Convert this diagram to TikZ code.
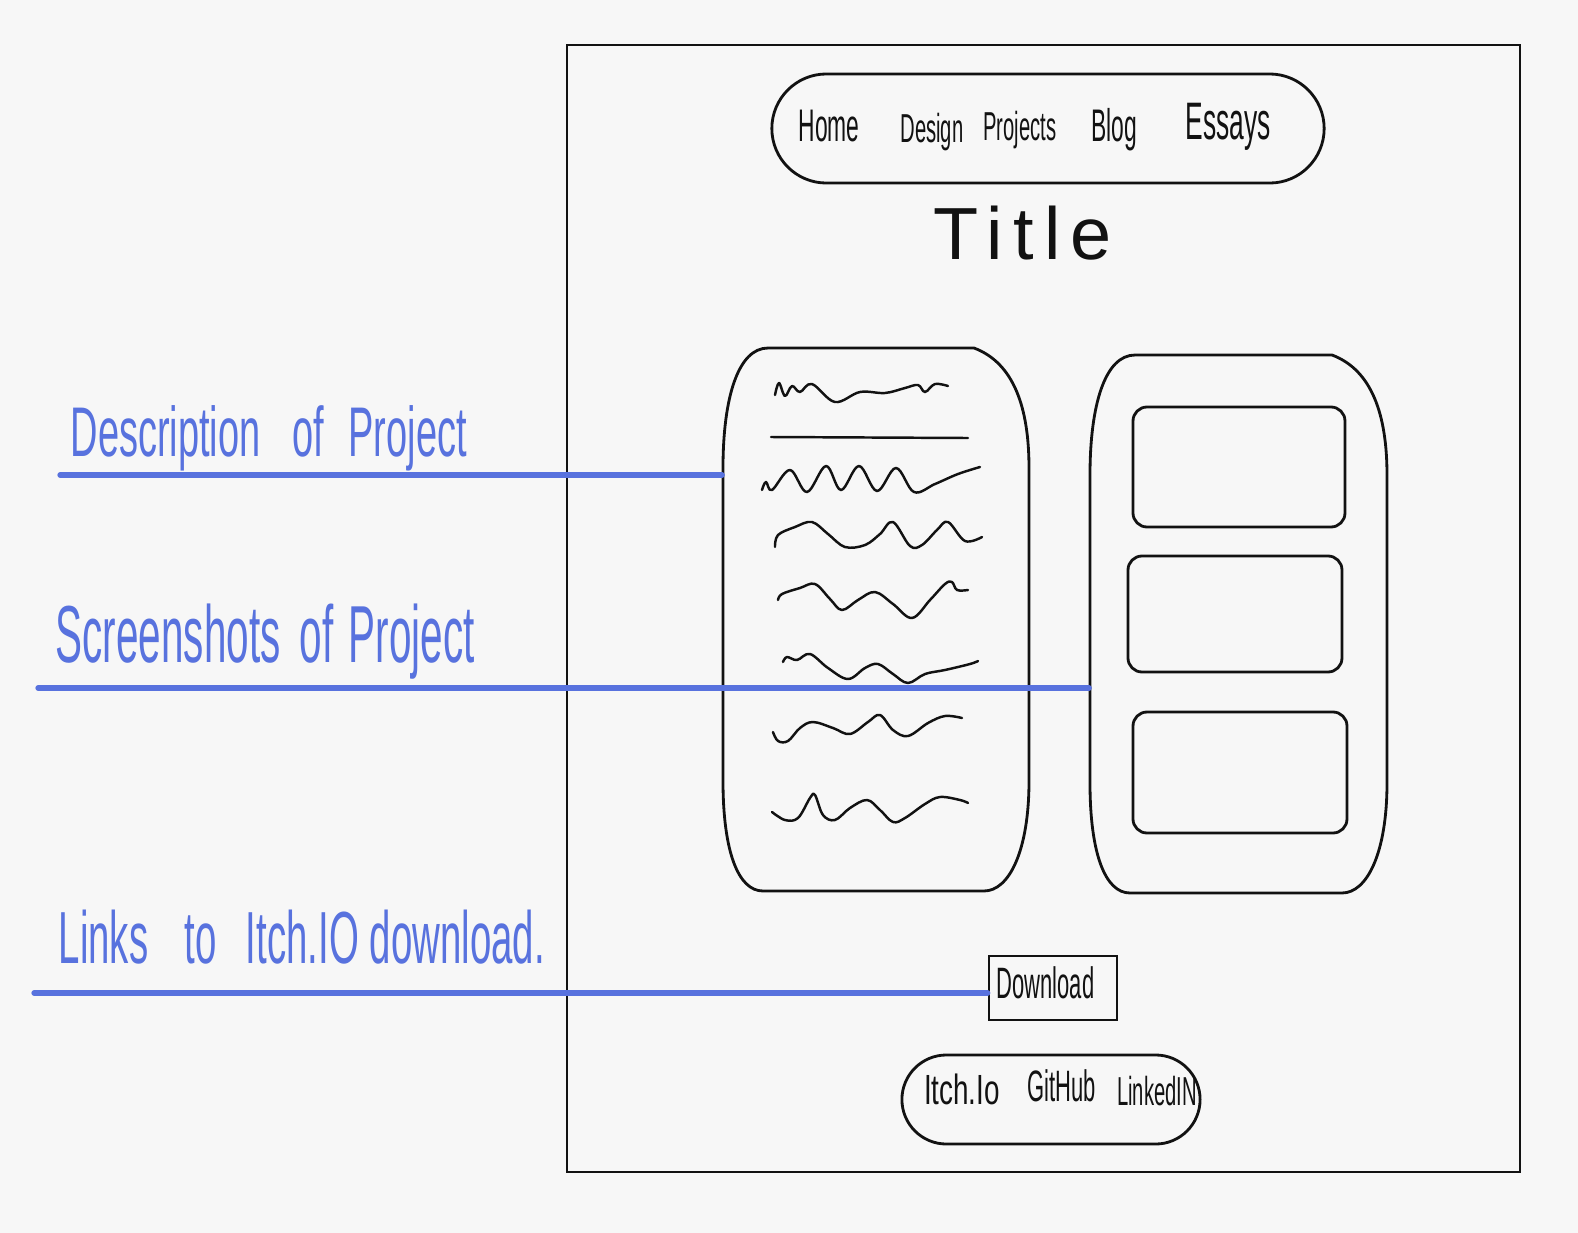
\documentclass[tikz,border=0pt]{standalone}
\usepackage{fontspec}
\setmainfont{Liberation Sans}
\newfontfamily\handc[FakeStretch=0.5]{Liberation Sans}
\newfontfamily\handd[FakeStretch=0.54]{Liberation Sans}
\newfontfamily\handw[LetterSpace=14]{Liberation Sans}
\newfontfamily\handf[FakeStretch=0.66]{Liberation Sans}
\newfontfamily\handl[FakeStretch=0.52]{Liberation Sans}
\definecolor{hblue}{RGB}{88,114,222}
\definecolor{paper}{RGB}{247,247,247}
\definecolor{inkc}{RGB}{18,18,18}
\tikzset{
  ink/.style={draw=inkc, line width=0.8pt, line cap=round, line join=round},
  frame/.style={draw=inkc, line width=0.65pt},
  bline/.style={draw=hblue, line width=1.5pt, line cap=round},
  pill/.style={draw=inkc, line width=0.8pt, inner sep=0pt},
  anchorbox/.style={inner sep=0pt},
  lbl/.style={text=hblue, inner sep=0pt, anchor=base west},
  navtxt/.style={text=inkc, inner sep=0pt, anchor=base, font=\handc\fontsize{13}{13}\selectfont},
  foottxt/.style={text=inkc, inner sep=0pt, anchor=base, font=\handc\fontsize{13}{13}\selectfont},
  squig/.style={draw=inkc, line width=0.7pt, line cap=round, line join=round}
}
\newcommand\cardpath[4]{%
  \draw[ink] (#1+45,#2) -- (#3-55,#2) .. controls (#3-15,#2+15) and (#3,#2+60) .. (#3,#2+120)
    -- (#3,#4-110) .. controls (#3,#4-40) and (#3-20,#4) .. (#3-45,#4)
    -- (#1+40,#4) .. controls (#1+15,#4) and (#1,#4-40) .. (#1,#4-110)
    -- (#1,#2+120) .. controls (#1,#2+50) and (#1+15,#2) .. (#1+45,#2) -- cycle;}
\begin{document}
\begin{tikzpicture}[x=0.01cm, y=-0.01cm]
\fill[paper] (0,0) rectangle (1578,1233);
\useasboundingbox (0,0) rectangle (1578,1233);

% page frame
\draw[frame] (567,45) rectangle (1520,1172);

% navigation pill
\node[pill, rounded corners=0.545cm, minimum width=5.52cm, minimum height=1.09cm] (nav) at (1048,128.5) {};
\node[navtxt] (home) at (829,141) {Home};
\node[navtxt, font=\handc\fontsize{11.5}{11.5}\selectfont] (design) at (932,142) {Design};
\node[navtxt, font=\handc\fontsize{11.5}{11.5}\selectfont] (projects) at (1020,140) {Projects};
\node[navtxt] (blog) at (1114,141) {Blog};
\node[navtxt, font=\handc\fontsize{15}{15}\selectfont] (essays) at (1228,139) {Essays};

% title
\node[text=inkc, inner sep=0pt, anchor=base, font=\handw\fontsize{21}{21}\selectfont] (title) at (1023,259) {Title};

% description card
\cardpath{723}{348}{1029}{891}
\node[anchorbox, minimum width=3.06cm, minimum height=5.43cm] (cardL) at (876,619.5) {};
\draw[squig] plot[smooth, tension=0.6] coordinates {(775,395) (779,383) (785,396) (792,386) (800,392) (812,384) (835,402) (860,392) (885,393) (905,388) (918,385) (925,392) (935,384) (948,386)};
\draw[squig] (771,437) -- (968,438);
\draw[squig] plot[smooth, tension=0.6] coordinates {(762,490) (766,482) (772,490) (790,470) (807,492) (826,466) (841,490) (859,466) (877,491) (896,468) (914,492) (935,484) (958,474) (980,467)};
\draw[squig] plot[smooth, tension=0.6] coordinates {(775,547) (778,535) (795,527) (812,522) (828,534) (845,547) (865,545) (880,534) (893,522) (910,546) (922,545) (937,530) (948,522) (965,541) (982,537)};
\draw[squig] plot[smooth, tension=0.6] coordinates {(778,600) (782,594) (800,588) (815,584) (830,599) (842,610) (858,600) (875,592) (893,604) (912,618) (930,600) (945,584) (952,582) (957,590) (968,590)};
\draw[squig] plot[smooth, tension=0.6] coordinates {(783,662) (787,657) (797,660) (810,654) (828,668) (848,679) (865,668) (878,664) (893,674) (908,683) (925,674) (945,670) (970,664) (978,661)};
\draw[squig] plot[smooth, tension=0.6] coordinates {(773,732) (778,741) (788,741) (800,728) (813,722) (833,728) (850,734) (868,722) (880,715) (893,730) (908,736) (928,723) (945,716) (962,718)};
\draw[squig] plot[smooth, tension=0.6] coordinates {(772,812) (785,820) (798,818) (810,798) (815,795) (823,815) (835,820) (850,808) (867,800) (880,810) (893,822) (905,818) (925,804) (940,797) (960,800) (968,803)};

% screenshots card
\cardpath{1090}{355}{1387}{893}
\node[anchorbox, minimum width=2.97cm, minimum height=5.38cm] (cardR) at (1238.5,624) {};
\draw[ink, rounded corners=0.14cm] (1133,407) rectangle (1345,527);
\draw[ink, rounded corners=0.14cm] (1128,556) rectangle (1342,672);
\draw[ink, rounded corners=0.14cm] (1133,712) rectangle (1347,833);

% download button
\node[draw=inkc, line width=0.7pt, inner sep=0pt, minimum width=1.28cm, minimum height=0.64cm] (dl) at (1053,988) {};
\node[text=inkc, inner sep=0pt, anchor=base west, font=\handc\fontsize{12.5}{12.5}\selectfont] (dltxt) at (996,998) {Download};

% footer pill
\node[pill, rounded corners=0.445cm, minimum width=2.98cm, minimum height=0.89cm] (foot) at (1051,1099.5) {};
\node[foottxt, font=\handf\fontsize{12}{12}\selectfont] (itch) at (962,1104) {Itch.Io};
\node[foottxt, font=\handc\fontsize{12.5}{12.5}\selectfont] (github) at (1062,1101) {GitHub};
\node[foottxt, font=\handc\fontsize{11.5}{11.5}\selectfont] (linkedin) at (1157,1105) {LinkedIN};

% annotations
\node[lbl, font=\handd\fontsize{20}{20}\selectfont] (ldesc) at (70,456) {Description\hspace{0.3em} of\hspace{0.2em} Project};
\coordinate (d0) at (60,475);
\draw[bline] (d0) -- (d0 -| cardL.west);

\node[lbl, font=\handc\fontsize{23}{23}\selectfont] (lshot) at (55,662) {Screenshots\hspace{0.1em} of\hspace{0.05em} Project};
\coordinate (s0) at (38,688);
\draw[bline] (s0) -- (s0 -| cardR.west);

\node[lbl, font=\handl\fontsize{21}{21}\selectfont] (llink) at (58,963) {Links\hspace{0.35em} to\hspace{0.25em} Itch.IO download.};
\coordinate (k0) at (34,993);
\draw[bline] (k0) -- (k0 -| dl.west);
\end{tikzpicture}
\end{document}
